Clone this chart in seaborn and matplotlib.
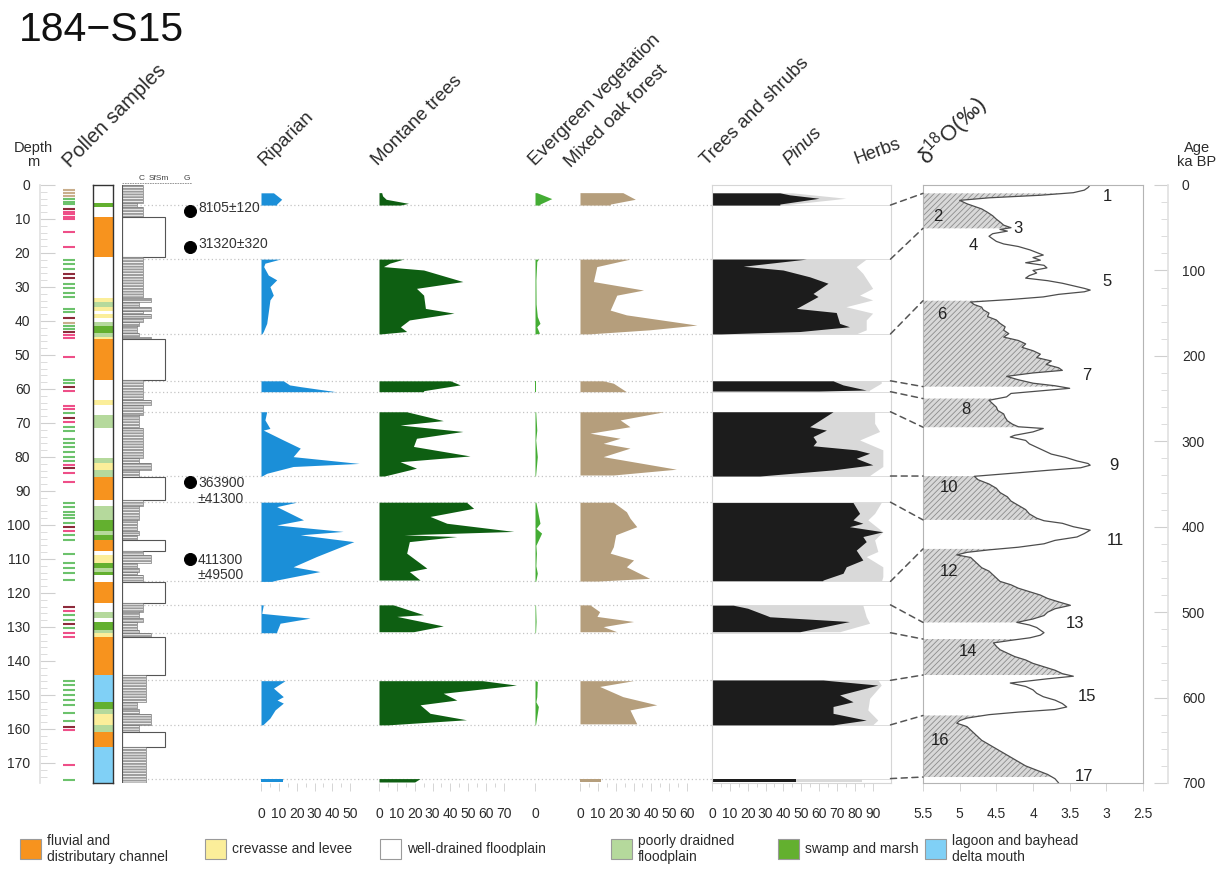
import numpy as np
import matplotlib
matplotlib.use("Agg")
import matplotlib.pyplot as plt
from matplotlib import font_manager
from matplotlib.patches import Rectangle, ConnectionPatch
import seaborn as sns

nan = np.nan

# ---------------------------------------------------------------- data
# Lithology (m): top, base, facies code
litho_top = [0, 5.2, 6.4, 9.3, 21.3, 33.3, 34.5, 36, 37, 38, 39, 40.2, 41.5, 43.5, 44.6,
             45.4, 57.4, 63.2, 64.7, 67.6, 71.6, 80.4, 81.9, 83.8, 85.8, 92.6, 94.5, 98.4,
             101.9, 102.9, 104.4, 107.8, 108.8, 111.3, 112.7, 113.7, 114.7, 116.7, 123.1,
             125.5, 127.5, 128.4, 130.9, 131.9, 133.1, 144.2, 152, 154, 155.5, 158.8, 160.8,
             165.2]
litho_base = litho_top[1:] + [175.9]
litho_facies = ["W", "S", "W", "F", "W", "C", "P", "C", "W", "C", "W", "P", "S", "P", "C",
                "F", "W", "C", "W", "P", "W", "P", "C", "P", "F", "W", "P", "S",
                "P", "S", "F", "W", "C", "S", "P", "S", "W", "F", "W",
                "P", "W", "S", "P", "C", "F", "L", "S", "P", "C", "P", "F",
                "L"]

facies_codes = ["F", "C", "W", "P", "S", "L"]
facies_names = ["fluvial and\ndistributary channel", "crevasse and levee",
                "well-drained floodplain", "poorly draidned\nfloodplain",
                "swamp and marsh", "lagoon and bayhead\ndelta mouth"]
facies_colors = ["#f7931e", "#fbee9a", "#ffffff", "#b5d99c", "#63b02f", "#80d0f6"]

# Pollen sample depths (m) and sample group
sample_depth = [1.5, 2.3, 3.1, 4.1, 4.9, 5.6, 7.2, 7.8, 8.6, 9.3, 10.0, 13.7, 18.1, 22.1,
                23.3, 24.8, 26.2, 27.5, 29.1, 30.4, 31.7, 32.8, 36.6, 37.5, 39.2, 40.7, 41.5,
                42.3, 43.1, 44.1, 45.1, 50.5, 57.3, 58.3, 59.5, 60.5, 64.9, 66.0, 67.2, 68.6,
                69.6, 71.1, 72.3, 74.8, 76.0, 77.2, 78.4, 79.9, 81.1, 82.4, 83.3, 84.8, 87.3,
                93.6, 94.8, 96.1, 97.1, 98.0, 99.3, 100.5, 101.7, 102.9, 104.4, 108.5, 111.2,
                112.7, 114.2, 116.2, 124.0, 125.2, 126.4, 127.9, 129.1, 130.4, 131.7, 133.0,
                145.9, 147.0, 148.5, 150.0, 151.5, 152.9, 155.4, 157.8, 159.3, 160.3, 170.6,
                175.0]
sample_group = list("tttggg" "dpppp" "pp" "gggdd" "gggg" "ggdtggdpp" "p" "ggdp" "ppgdp"
                    "gggggggg" "pdpp" "gggggg" "dpgg" "ggggg" "dpggdgpp" "gggggggg" "dp" "pg")
group_colors = {"g": "#6cc26c", "p": "#ee4f88", "d": "#8e2b3b", "t": "#c9ae8c"}

# Radiocarbon / luminescence dates
date_depth = [7.6, 18.2, 87.4, 110.0]
date_label = ["8105\u00b1120", "31320\u00b1320", "363900\n\u00b141300", "411300\n\u00b149500"]

# Pollen percentages (NaN separates sampled intervals)
riparian_depth = [2.3, 4.2, 5.6, 5.9, nan,
                  21.8, 23.0, 24.0, 26.5, 27.9, 29.9, 32.4, 33.8, 37.7, 40.7, 43.1, 43.8, nan,
                  57.6, 58.8, 59.3, 60.8, nan,
                  66.7, 69.1, 71.6, 72.1, 75.0, 77.4, 79.9, 81.9, 82.8, 84.8, 85.6, nan,
                  93.3, 94.6, 98.5, 100.0, 101.9, 102.9, 104.9, 109.3, 112.3, 113.7, 116.2, 116.6, nan,
                  123.5, 126.0, 127.4, 128.9, 131.4, 131.7, nan,
                  145.8, 148.0, 150.5, 151.5, 152.4, 154.4, 156.8, 158.8, nan,
                  174.6, 175.6]
riparian_pct = [7, 11.6, 8.8, 8.8, nan,
                10.7, 2.2, 1.5, 4.1, 8.8, 5.0, 6.9, 5.0, 4.0, 3.2, 1.3, 0.5, nan,
                12.5, 16, 22, 42, nan,
                3.2, 2.2, 5.0, 1.3, 12.5, 22, 18, 55, 18, 3.2, 0.5, nan,
                20, 8.8, 23.8, 8.8, 46, 22, 52, 31, 18, 33, 8.8, 6, nan,
                1.3, 0.4, 27.5, 10.7, 8.8, 8.8, nan,
                13.5, 7, 12.5, 9, 12.5, 7.9, 5, 1, nan,
                12.5, 12.5]

montane_depth = [2.25, 3.2, 4.2, 5.4, 5.9, nan,
                 21.8, 23.0, 24.0, 25.0, 28.4, 30.4, 32.4, 36.3, 37.7, 39.7, 41.7, 43.1, 43.8, nan,
                 57.6, 58.8, 60.5, 60.8, nan,
                 66.7, 69.3, 70.6, 72.5, 74.5, 76.9, 79.7, 81.4, 83.3, 85.6, nan,
                 93.3, 95.1, 97.5, 99.5, 101.9, 102.9, 103.4, 104.9, 108.3, 112.7, 113.7, 116.2, nan,
                 123.5, 126.4, 126.9, 129.7, 131.4, nan,
                 145.8, 147.1, 149.5, 151.5, 152.9, 155.4, 157.3, 158.8, nan,
                 174.6, 175.6]
montane_pct = [1.5, 2, 4, 16.5, 12, nan,
               13.7, 6, 2.5, 25, 47, 21, 25, 26, 42, 17, 12, 15.5, 1, nan,
               40, 45.5, 25, 25, nan,
               15.5, 36, 11.8, 47, 21, 19.3, 51, 11.8, 21, 3, nan,
               49, 53, 28.6, 38, 75.5, 14, 43.6, 17, 15.5, 26.8, 17, 23, nan,
               8, 25, 10, 36, 19.3, nan,
               58, 77, 36, 43.6, 23, 28.6, 49, 5, nan,
               23, 20]

evergreen_depth = [2.25, 4.0, 5.6, 5.9, nan,
                   21.8, 22.5, 28.0, 35.0, 38.7, 40.7, 41.7, 43.6, 43.8, nan,
                   57.6, 60.8, nan,
                   66.7, 72.1, 75.0, 79.9, 85.6, nan,
                   93.3, 99.5, 101.0, 102.4, 106.0, 108.3, 112.0, 114.2, 116.6, nan,
                   123.5, 128.4, 131.7, nan,
                   145.8, 146.1, 150.5, 152.0, 153.4, 158.8, nan,
                   174.6, 175.6]
evergreen_pct = [1, 9.4, 2.8, 2.8, nan,
                 1.9, 1, 0.5, 0.6, 1.3, 2.8, 1, 2.5, 0.5, nan,
                 0.4, 0.4, nan,
                 0.4, 1, 0.4, 1.3, 0.3, nan,
                 0.5, 2.8, 0.6, 3.7, 0.5, 0.8, 0.5, 1.3, 0.4, nan,
                 0.3, 0.6, 0.3, nan,
                 0.4, 1.3, 1.0, 0.5, 1.9, 0.3, nan,
                 0.2, 0.2]

oak_depth = [2.25, 4.2, 5.6, 5.9, nan,
             21.8, 24.0, 28.4, 30.9, 32.4, 36.8, 38.2, 41.2, 42.6, 43.8, nan,
             57.6, 58.3, 60.8, nan,
             66.7, 69.1, 71.1, 73.0, 74.5, 76.0, 77.4, 79.9, 83.6, 85.3, nan,
             93.3, 96.1, 98.0, 100.5, 102.9, 106.4, 108.3, 110.3, 112.3, 115.7, 116.5, nan,
             123.5, 125.5, 126.9, 128.4, 129.9, 131.4, nan,
             145.8, 147.5, 150.5, 152.9, 154.4, 158.5, nan,
             174.6, 175.6]
oak_pct = [24, 31, 17, 17, nan,
           28, 9.4, 7.5, 35.6, 20.6, 16.9, 26, 65.5, 39, 5, nan,
           13, 18.7, 26, nan,
           47, 22.5, 28, 5.6, 22.5, 13, 28, 13, 54, 18.7, nan,
           18.7, 26, 28, 31.8, 20, 18.7, 16.9, 30, 26, 39, 10, nan,
           5.6, 11, 9.5, 30, 13, 20.6, nan,
           30, 11, 24, 43, 28, 31.8, nan,
           12, 12]

pinus_depth = [2.3, 2.9, 3.9, 5.6, 5.9, nan,
               21.8, 23.9, 25.0, 27.0, 28.9, 31.9, 32.8, 36.3, 37.5, 40.7, 41.7, 43.1, 43.8, nan,
               57.6, 58.8, 60.3, 60.6, nan,
               66.7, 71.1, 72.1, 74.0, 75.5, 76.7, 77.9, 78.9, 80.4, 82.3, 83.8, 85.6, nan,
               93.4, 96.6, 98.5, 99.5, 100.5, 102.0, 103.4, 104.9, 107.4, 110.3, 112.3, 114.2,
               116.2, 116.4, nan,
               123.6, 124.5, 126.5, 127.0, 128.4, 131.4, nan,
               145.6, 147.1, 150.0, 152.0, 153.4, 155.4, 157.4, 158.8, nan,
               174.6, 175.6]
pinus_pct = [38, 43.6, 60, 38, 38, nan,
             52.9, 17.5, 39.8, 54.7, 65, 56.6, 59.4, 47.3, 69.6, 71.5, 77, 49.2, 5, nan,
             67.8, 73.4, 86.4, 60, nan,
             67.8, 54.7, 64.1, 56.6, 58.5, 56.6, 80.8, 88.3, 80.8, 90.1, 67.8, 26.8, nan,
             79, 82.7, 79, 84.5, 77, 95.7, 84.5, 86.4, 80.8, 84.5, 75.2, 73.4, 62.2, 62, nan,
             11.9, 20, 30, 32.4, 77, 49.2, nan,
             62.2, 92.9, 71.5, 79, 67.8, 67.8, 86.4, 67.8, nan,
             47.3, 47.3]

trees_depth = [2.3, 3.9, 5.6, 5.9, nan,
               21.8, 24.0, 26.0, 30.4, 32.4, 33.8, 35.8, 37.7, 39.7, 42.6, 43.8, nan,
               57.6, 58.3, 60.3, 60.6, nan,
               66.7, 70.1, 72.5, 75.0, 77.9, 82.8, 84.8, 85.6, nan,
               93.4, 96.6, 98.5, 102.0, 104.4, 107.8, 109.3, 112.3, 115.2, 116.4, nan,
               123.6, 127.0, 128.9, 131.4, nan,
               145.6, 147.1, 151.0, 154.4, 157.4, 158.8, nan,
               174.6, 175.6]
trees_pct = [45, 75, 45, 40, nan,
             86.4, 80.8, 84.5, 90, 82.7, 90, 75, 90, 86.4, 86.4, 80.8, nan,
             94.8, 94.8, 88.3, 88, nan,
             91.1, 91.1, 93.9, 82.7, 95.7, 95.7, 90.1, 88, nan,
             94.8, 91.1, 87.3, 95.7, 91.1, 92.9, 86.4, 95.7, 95.7, 95, nan,
             84.5, 86.4, 88.3, 71.5, nan,
             93, 94.8, 88.3, 87.3, 92.9, 90, nan,
             84, 84]

# Correlation tie points: core depth (m) -> age (ka)
tie_depth = [5.9, 21.8, 43.8, 57.6, 60.8, 66.7, 85.6, 93.3, 116.6, 123.5, 131.7, 145.7, 158.8, 174.6]
tie_age = [9.8, 50.7, 135.5, 236, 250, 283.5, 340.7, 392, 426, 512, 531.5, 573.6, 621, 693]

# Benthic d18O stack (ka, per mil)
lr04_age = [0, 3, 6, 9, 12, 15, 18, 20, 22, 25, 28, 32, 36, 40, 44, 47, 50, 52, 54, 57, 60,
            63, 66, 69, 72, 76, 79, 82, 85, 88, 91, 94, 97, 100, 103, 106, 109, 112, 115, 118,
            121, 123, 125, 128, 131, 134, 137, 140, 143, 146, 150, 154, 158, 162, 166, 170,
            174, 178, 182, 186, 190, 194, 198, 202, 206, 210, 214, 217, 220, 224, 228, 232,
            235, 238, 241, 244, 248, 252, 256, 260, 264, 268, 272, 276, 280, 283, 285, 289,
            293, 295, 299, 303, 307, 311, 315, 319, 323, 326, 328, 331, 334, 337, 341, 345,
            350, 355, 360, 365, 370, 375, 380, 385, 390, 393, 396, 400, 404, 408, 412, 416,
            420, 424, 427, 430, 433, 436, 440, 444, 448, 452, 456, 460, 464, 468, 472, 476,
            480, 484, 488, 492, 496, 500, 504, 508, 512, 515, 518, 521, 524, 527, 530, 533,
            536, 540, 544, 548, 552, 556, 560, 564, 568, 572, 575, 578, 581, 583, 587, 591,
            595, 599, 603, 607, 611, 614, 617, 620, 624, 627, 630, 634, 638, 642, 646, 650,
            655, 660, 665, 670, 675, 680, 685, 690, 695, 700]
lr04_d18o = [3.22, 3.25, 3.3, 3.45, 3.9, 4.6, 5.0, 4.95, 4.9, 4.8, 4.7, 4.62, 4.55, 4.5, 4.44,
             4.4, 4.3, 4.45, 4.35, 4.55, 4.6, 4.55, 4.5, 4.4, 4.2, 4.04, 3.95, 3.86, 4.0, 3.9,
             4.1, 3.85, 3.81, 4.0, 3.95, 4.05, 4.1, 3.8, 3.6, 3.45, 3.3, 3.22, 3.3, 3.65, 3.86,
             4.3, 4.85, 4.8, 4.7, 4.68, 4.6, 4.62, 4.5, 4.45, 4.38, 4.4, 4.33, 4.4, 4.2, 4.1,
             4.15, 4.0, 3.9, 3.95, 3.75, 3.82, 3.65, 3.6, 4.0, 4.36, 4.2, 4.0, 3.7, 3.5, 3.9,
             4.3, 4.36, 4.6, 4.55, 4.5, 4.48, 4.4, 4.38, 4.35, 4.28, 4.2, 3.86, 4.0, 4.25, 4.31,
             4.1, 4.05, 3.95, 3.85, 3.75, 3.55, 3.4, 3.25, 3.22, 3.35, 3.8, 4.22, 4.8, 4.75,
             4.6, 4.5, 4.45, 4.35, 4.3, 4.2, 4.1, 4.05, 3.95, 3.85, 3.6, 3.45, 3.22, 3.3, 3.4,
             3.7, 3.85, 4.2, 4.59, 4.9, 5.04, 4.85, 4.8, 4.75, 4.7, 4.6, 4.55, 4.5, 4.45, 4.3,
             4.2, 4.05, 3.9, 3.8, 3.65, 3.49, 3.7, 3.8, 3.85, 4.0, 4.22, 4.05, 3.95, 3.9, 3.85,
             3.9, 4.04, 4.3, 4.54, 4.5, 4.45, 4.35, 4.25, 4.1, 4.0, 3.85, 3.7, 3.6, 3.45, 3.8,
             4.1, 4.31, 4.1, 4.0, 3.95, 3.86, 3.7, 3.6, 3.54, 3.7, 4.2, 4.6, 4.9, 5.0, 5.04,
             4.9, 4.85, 4.8, 4.75, 4.7, 4.6, 4.5, 4.4, 4.3, 4.2, 4.1, 3.95, 3.8, 3.7, 3.65]

# Glacial (even-numbered) stages shaded on the isotope curve (ka)
glacial_top = [9.8, 135.5, 250, 340.7, 426, 531.5, 621]
glacial_base = [50.7, 236, 283.5, 392, 512, 573.6, 693]

mis_number = [str(i) for i in range(1, 18)]
mis_age = [13, 37, 50.7, 71.4, 113, 152, 222.5, 262.6, 328, 354, 415.7, 452.8, 513, 546.5,
           599, 650, 692]
mis_d18o = [2.98, 5.3, 4.2, 4.82, 2.99, 5.25, 3.27, 4.91, 2.9, 5.15, 2.87, 5.15, 3.43, 4.88,
            3.27, 5.27, 3.3]

# ---------------------------------------------------------------- style
W, H = 1222, 869
TOP, BOT = 185, 783
DMAX, AMAX = 175.9, 700.0
S = 1.785  # pixels per percent, shared by all pollen panels

sns.set_theme(style="white")
names = {f.name for f in font_manager.fontManager.ttflist}
BASE = "Liberation Sans" if "Liberation Sans" in names else "DejaVu Sans"
NARROW = "Liberation Sans Narrow" if "Liberation Sans Narrow" in names else BASE
plt.rcParams["font.family"] = [BASE, "DejaVu Sans"]
plt.rcParams["hatch.linewidth"] = 0.6
plt.rcParams["mathtext.fontset"] = "custom"
plt.rcParams["mathtext.rm"] = BASE

TXT = "#2b2b2b"
TICK = "#cfcfcf"

fig = plt.figure(figsize=(W / 100, H / 100), dpi=100)
fig.patch.set_facecolor("white")


def add_ax(x0, x1, y0=TOP, y1=BOT, z=1.0):
    a = fig.add_axes([x0 / W, 1 - y1 / H, (x1 - x0) / W, (y1 - y0) / H], zorder=z)
    a.set_facecolor("none")
    for sp in a.spines.values():
        sp.set_visible(False)
    a.tick_params(left=False, bottom=False, labelleft=False, labelbottom=False)
    a.grid(False)
    return a


def runs(depth, pct):
    d = np.asarray(depth, float)
    v = np.asarray(pct, float)
    cut = np.where(np.isnan(d))[0]
    out = []
    for dd, vv in zip(np.split(d, cut), np.split(v, cut)):
        m = ~np.isnan(dd)
        if m.any():
            out.append((dd[m], vv[m]))
    return out


def narrow_labels(ax):
    for lab in ax.get_xticklabels() + ax.get_yticklabels():
        lab.set_fontfamily(NARROW)


# overlay in pixel coordinates for headers and legend
ov = fig.add_axes([0, 0, 1, 1], zorder=0)
ov.set_xlim(0, W)
ov.set_ylim(H, 0)
ov.axis("off")
ov.set_facecolor("none")

ov.text(19, 30, "184\u2212S15", fontsize=29.5, color="#111", va="center", ha="left")
ov.text(33, 155, "Depth\nm", fontsize=10.5, color=TXT, ha="center", va="center", linespacing=1.05)
ov.text(1197, 155, "Age\nka BP", fontsize=10.5, color=TXT, ha="center", va="center", linespacing=1.05)

headers = [("Pollen samples", 70, 168, 14.5, "normal"),
           ("Riparian", 265, 166, 13.5, "normal"),
           ("Montane trees", 378, 166, 13.5, "normal"),
           ("Evergreen vegetation", 535, 166, 13.5, "normal"),
           ("Mixed oak forest", 571, 168, 13.5, "normal"),
           ("Trees and shrubs", 707, 166, 13.5, "normal"),
           ("Pinus", 789, 166, 13.5, "italic")]
for txt, hx, hy, fs, st in headers:
    ov.text(hx, hy, txt, rotation=45, rotation_mode="anchor", ha="left", va="baseline",
            fontsize=fs, style=st, color=TXT)
ov.text(856, 164, "Herbs", rotation=20, rotation_mode="anchor", ha="left", va="baseline",
        fontsize=13, color=TXT)
ov.text(927, 166, "\u03b4$^{18}$O(\u2030)", rotation=45, rotation_mode="anchor", ha="left",
        va="baseline", fontsize=16, color=TXT)

# grain-size scale header
for gx, gt in [(139, "C"), (149, "SfSm"), (184, "G")]:
    ov.text(gx, 180, gt, fontsize=6, color="#444", ha="left", va="baseline")
ov.plot([122, 192], [183, 183], color="#888", lw=0.6, ls=(0, (2, 1)))

# legend
leg_x = [20, 205, 380, 611, 778, 925]
for lx, code in zip(leg_x, facies_codes):
    i = facies_codes.index(code)
    ov.add_patch(Rectangle((lx, 839), 21, 20, facecolor=facies_colors[i], edgecolor="#9a9a9a", lw=0.8))
    ov.text(lx + 27, 849, facies_names[i], fontsize=10, color=TXT, ha="left", va="center",
            family=[NARROW, "DejaVu Sans"], linespacing=1.15)

# ---------------------------------------------------------------- depth ruler
axd = add_ax(40, 52)
axd.set_ylim(DMAX, 0)
axd.spines["left"].set_visible(True)
axd.spines["left"].set_color("#e2e2e2")
axd.set_yticks(np.arange(0, 171, 10))
axd.set_yticks(np.arange(0, 176, 2), minor=True)
axd.tick_params(axis="y", which="both", left=True, labelleft=True, direction="in", colors=TICK,
                labelcolor=TXT, labelsize=10, pad=7)
axd.tick_params(axis="y", which="major", length=11, width=0.8)
axd.tick_params(axis="y", which="minor", length=5, width=0.5)
narrow_labels(axd)

# pollen sample positions
axs = add_ax(60, 80)
axs.set_ylim(DMAX, 0)
axs.set_xlim(0, 1)
axs.hlines(sample_depth, 0.15, 0.75, colors=[group_colors[g] for g in sample_group], lw=1.5)

# lithology column
axl = add_ax(93, 113, z=1.2)
axl.set_ylim(DMAX, 0)
axl.set_xlim(0, 1)
lt = np.array(litho_top)
lb = np.array(litho_base)
axl.barh((lt + lb) / 2, 1, height=lb - lt, left=0,
         color=[facies_colors[facies_codes.index(f)] for f in litho_facies], lw=0)
for sp in axl.spines.values():
    sp.set_visible(True)
    sp.set_color("#333")
    sp.set_linewidth(1.0)

# background dotted lines across pollen panels at interval limits
axbg = add_ax(140, 712, z=0.5)
axbg.set_ylim(DMAX, 0)
axbg.set_xlim(0, 1)
for d in tie_depth:
    axbg.axhline(d, color="#c4c4c4", ls=(0, (1, 2)), lw=0.9)

# grain-size log and dates
axg = add_ax(122, 255, z=1.1)
axg.set_ylim(DMAX, 0)
axg.set_xlim(0, 133)
grain_width = {"F": 43, "C": 29, "W": 21, "P": 17, "S": 15, "L": 24}
for t, b, f in zip(litho_top, litho_base, litho_facies):
    w = grain_width[f]
    if f == "F":
        axg.add_patch(Rectangle((0, t), w, b - t, facecolor="white", edgecolor="#555", lw=0.8))
    else:
        axg.add_patch(Rectangle((0, t), w, b - t, facecolor="#9c9c9c", edgecolor="white",
                                hatch="------", lw=0))
        axg.add_patch(Rectangle((0, t), w, b - t, fill=False, edgecolor="#777", lw=0.5))
axg.axvline(0, color="#555", lw=0.8)
sns.scatterplot(x=[68] * len(date_depth), y=date_depth, color="black", s=75, ax=axg,
                legend=False, zorder=4, edgecolor="black")
for d, lab in zip(date_depth, date_label):
    if "\n" in lab:
        axg.text(76, d - 1.8, lab, fontsize=10, color="#333", ha="left", va="top",
                 linespacing=1.15, family=[NARROW, "DejaVu Sans"])
    else:
        axg.text(76, d - 0.9, lab, fontsize=10, color="#333", ha="left", va="center",
                 family=[NARROW, "DejaVu Sans"])
axg.set_ylim(DMAX, 0)
axg.set_xlim(0, 133)
axg.set_xlabel("")
axg.set_ylabel("")


# ---------------------------------------------------------------- pollen panels
def pollen_panel(x_left, x_zero, x_right, series, colors, ticks):
    a = add_ax(x_left, x_right)
    a.set_ylim(DMAX, 0)
    a.set_xlim((x_left - x_zero) / S, (x_right - x_zero) / S)
    for (depth, pct), c in zip(series, colors):
        for dd, vv in runs(depth, pct):
            a.fill_betweenx(dd, 0, vv, color=c, lw=0)
    a.set_xticks(ticks)
    if len(ticks) > 1:
        a.set_xticks(np.arange(0, ticks[-1] + 0.1, 5), minor=True)
    a.tick_params(axis="x", which="both", bottom=True, labelbottom=True, colors=TICK,
                  labelcolor=TXT, labelsize=10, pad=11, length=6, width=0.6)
    a.tick_params(axis="x", which="minor", length=3)
    narrow_labels(a)
    return a


pollen_panel(257, 261, 365, [(riparian_depth, riparian_pct)], ["#1b8fd8"], list(range(0, 51, 10)))
pollen_panel(375, 379, 522, [(montane_depth, montane_pct)], ["#0e5f12"], list(range(0, 71, 10)))
pollen_panel(530, 535, 565, [(evergreen_depth, evergreen_pct)], ["#44ad34"], [0])
pollen_panel(576, 580, 702, [(oak_depth, oak_pct)], ["#b59e7c"], list(range(0, 61, 10)))

x_trees_max = 100
axt = pollen_panel(712, 712, 712 + x_trees_max * S,
                   [(trees_depth, trees_pct), (pinus_depth, pinus_pct)],
                   ["#d9d9d9", "#1c1c1c"], list(range(0, 91, 10)))
for sp in axt.spines.values():
    sp.set_visible(True)
    sp.set_color("#d6d6d6")
    sp.set_linewidth(0.8)
for d in tie_depth:
    axt.axhline(d, color="#dcdcdc", lw=0.7, zorder=0)

# ---------------------------------------------------------------- isotope panel
axi = add_ax(923, 1143)
age = np.asarray(lr04_age, float)
iso = np.asarray(lr04_d18o, float)
for t, b in zip(glacial_top, glacial_base):
    m = (age > t) & (age < b)
    seg = np.r_[t, age[m], b]
    axi.fill_betweenx(seg, 5.5, np.interp(seg, age, iso), facecolor="#d8d8d8",
                      edgecolor="#8c8c8c", hatch="//////", lw=0)
sns.lineplot(x=lr04_d18o, y=lr04_age, orient="y", sort=False, estimator=None, color="#4d4d4d",
             lw=0.9, ax=axi)
for n, a_, v in zip(mis_number, mis_age, mis_d18o):
    axi.text(v, a_, n, fontsize=12, color="#222", ha="center", va="center")
axi.set_xlim(5.5, 2.5)
axi.set_ylim(AMAX, 0)
axi.set_xlabel("")
axi.set_ylabel("")
for sp in axi.spines.values():
    sp.set_visible(True)
    sp.set_color("#b4b4b4")
    sp.set_linewidth(0.8)
axi.set_xticks([5.5, 5, 4.5, 4, 3.5, 3, 2.5])
axi.set_xticklabels(["5.5", "5", "4.5", "4", "3.5", "3", "2.5"])
axi.tick_params(axis="x", bottom=True, labelbottom=True, colors=TICK, labelcolor=TXT,
                labelsize=10, pad=11, length=6, width=0.6)
axi.tick_params(left=False, labelleft=False)
narrow_labels(axi)

# age ruler
axa = add_ax(1157, 1168)
axa.set_ylim(AMAX, 0)
axa.spines["right"].set_visible(True)
axa.spines["right"].set_color("#e2e2e2")
axa.yaxis.set_ticks_position("right")
axa.set_yticks(np.arange(0, 701, 100))
axa.set_yticks(np.arange(0, 701, 20), minor=True)
axa.tick_params(axis="y", which="both", right=True, labelright=True, left=False, labelleft=False,
                direction="in", colors=TICK, labelcolor=TXT, labelsize=10, pad=10)
axa.tick_params(axis="y", which="major", length=10, width=0.8)
axa.tick_params(axis="y", which="minor", length=5, width=0.5)
narrow_labels(axa)

# dashed depth-age correlation lines
for d, a_ in zip(tie_depth, tie_age):
    con = ConnectionPatch(xyA=(x_trees_max, d), coordsA=axt.transData,
                          xyB=(5.5, a_), coordsB=axi.transData,
                          color="#555555", lw=1.1, ls=(0, (4, 3)), zorder=6)
    fig.add_artist(con)

fig.savefig("out.png", dpi=100, facecolor="white")
